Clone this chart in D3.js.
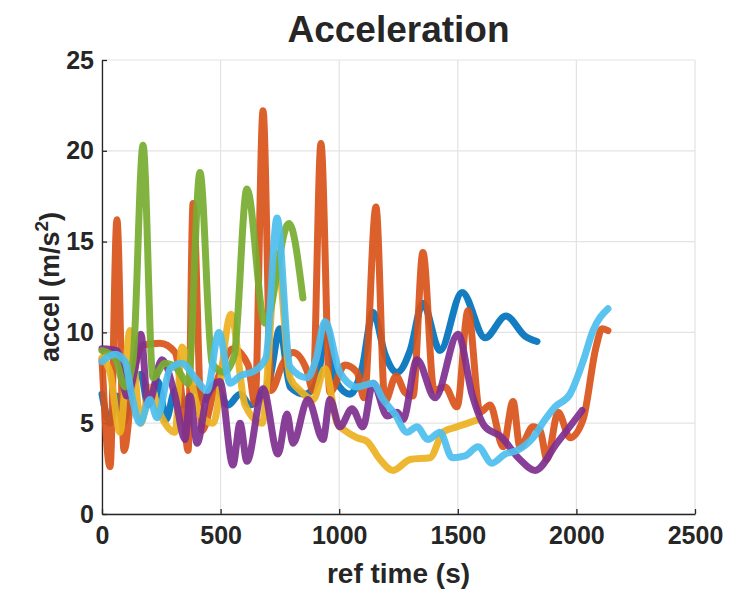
<!DOCTYPE html>
<html><head><meta charset="utf-8">
<script src="https://cdn.jsdelivr.net/npm/d3@7/dist/d3.min.js"></script>
<style>
body{margin:0;background:#fff}
svg{display:block}
text{font-family:"Liberation Sans",Arial,Helvetica,sans-serif;font-weight:bold;fill:#262626}
</style>
</head><body>
<svg id="chart" width="730" height="589"></svg>
<script>
const xTicks = [0, 500, 1000, 1500, 2000, 2500];
const yTicks = [0, 5, 10, 15, 20, 25];
const titleText = "Acceleration";
const xLabel = "ref time (s)";
const seriesColors = ["#0072BD", "#D95319", "#EDB120", "#7E2F8E", "#77AC30", "#4DBEEE"];

// [ref time (s), accel (m/s^2)]
const seriesBlue = [[0,6.6],[34,5.0],[63,6.5],[89,5.0],[131,7.2],[164,7.7],[194,6.0],[236,7.3],[270,5.2],[308,6.8],[341,6.0],[392,6.9],[434,6.3],[476,7.1],[531,6.0],[582,6.6],[624,6.0],[675,6.6],[708,7.5],[750,10.2],[793,7.0],[856,6.6],[911,7.5],[944,10.5],[987,7.3],[1046,6.6],[1096,8.0],[1143,11.1],[1193,8.8],[1244,7.8],[1299,9.0],[1353,11.6],[1425,9.0],[1518,12.2],[1615,9.7],[1703,10.9],[1783,9.8],[1834,9.5]];
const seriesOrange = [[0,8.5],[34,2.6],[63,16.2],[93,3.5],[131,7.5],[173,9.3],[245,9.4],[308,8.9],[341,6.0],[363,3.5],[384,17.1],[422,4.6],[476,7.0],[552,9.1],[616,8.2],[645,6.1],[679,22.2],[713,6.8],[763,8.3],[805,8.9],[864,7.9],[889,6.8],[923,20.4],[961,6.7],[1024,8.2],[1075,7.8],[1105,6.4],[1155,16.9],[1193,6.2],[1240,7.6],[1277,6.7],[1311,6.5],[1353,14.4],[1400,6.8],[1446,7.0],[1497,5.9],[1543,11.2],[1594,5.6],[1636,6.0],[1691,3.7],[1733,6.2],[1762,3.7],[1817,4.8],[1847,4.6],[1876,3.0],[1923,5.6],[1973,4.2],[2028,5.2],[2083,9.2],[2108,10.2],[2133,10.1]];
const seriesYellow = [[0,8.6],[34,7.8],[76,4.5],[118,10.1],[164,5.0],[202,7.0],[245,5.5],[308,4.5],[337,9.2],[413,5.5],[468,5.0],[544,11.0],[603,6.0],[675,5.0],[738,14.3],[793,7.5],[835,6.8],[890,6.3],[940,8.0],[991,5.0],[1024,4.6],[1075,4.2],[1117,4.0],[1172,3.0],[1227,2.4],[1299,3.0],[1383,3.1],[1438,4.5],[1497,4.8],[1585,5.2]];
const seriesPurple = [[0,9.1],[63,9.0],[105,6.5],[139,8.0],[164,9.9],[194,6.0],[253,8.5],[308,6.5],[350,4.1],[371,6.5],[401,3.9],[443,6.5],[497,7.3],[552,2.7],[582,5.0],[611,2.9],[679,6.9],[742,3.3],[780,5.5],[805,3.9],[868,6.3],[932,4.1],[961,6.3],[1003,4.8],[1054,5.8],[1100,4.8],[1143,7.2],[1202,5.4],[1244,5.6],[1269,5.2],[1328,8.5],[1404,6.4],[1501,9.9],[1560,6.6],[1615,4.8],[1678,4.3],[1762,3.0],[1826,2.4],[1918,3.9],[2024,5.7]];
const seriesGreen = [[0,9.0],[55,8.6],[97,7.0],[131,8.5],[173,20.3],[215,7.5],[266,8.3],[316,8.0],[363,7.2],[413,18.8],[464,8.3],[514,7.8],[557,8.7],[611,17.9],[687,10.5],[788,16.0],[847,11.9]];
const seriesLightBlue = [[0,8.4],[55,8.8],[97,8.4],[126,6.5],[160,5.0],[202,6.3],[232,5.3],[287,8.0],[337,8.3],[392,7.5],[443,6.8],[493,10.0],[540,7.2],[582,7.6],[645,7.9],[691,8.6],[738,16.3],[793,8.1],[864,7.5],[902,8.5],[940,10.6],[1003,7.8],[1075,7.0],[1143,7.2],[1185,6.3],[1235,5.5],[1286,4.5],[1328,4.8],[1374,4.1],[1425,4.5],[1476,3.1],[1530,3.2],[1585,3.7],[1644,2.8],[1699,3.3],[1750,3.5],[1817,4.2],[1868,5.2],[1910,5.9],[1973,6.6],[2028,8.4],[2070,10.1],[2133,11.3]];

const allSeries = [seriesBlue, seriesOrange, seriesYellow, seriesPurple, seriesGreen, seriesLightBlue];

const svg = d3.select("#chart");
const L = 102, R = 695, T = 60, B = 514;
const x = d3.scaleLinear().domain([0, 2500]).range([L, R]);
const y = d3.scaleLinear().domain([0, 25]).range([B, T]);

// grid
const grid = svg.append("g");
grid.selectAll("line.gx").data(xTicks).join("line")
  .attr("x1", d => x(d)).attr("x2", d => x(d)).attr("y1", T).attr("y2", B)
  .attr("stroke", "#e3e3e3").attr("stroke-width", 1.2);
grid.selectAll("line.gy").data(yTicks).join("line")
  .attr("x1", L).attr("x2", R).attr("y1", d => y(d)).attr("y2", d => y(d))
  .attr("stroke", "#e3e3e3").attr("stroke-width", 1.2);

// axes
const fmt = d3.format("d");
const xAxis = d3.axisBottom(x).tickValues(xTicks).tickFormat(fmt).tickSizeInner(-5).tickSizeOuter(0).tickPadding(12);
const yAxis = d3.axisLeft(y).tickValues(yTicks).tickFormat(fmt).tickSizeInner(-5).tickSizeOuter(0).tickPadding(8);
const gx = svg.append("g").attr("transform", `translate(0,${B})`).call(xAxis);
const gy = svg.append("g").attr("transform", `translate(${L},0)`).call(yAxis);
[gx, gy].forEach(g => {
  g.select(".domain").attr("stroke", "#262626").attr("stroke-width", 1.3);
  g.selectAll(".tick line").attr("stroke", "#262626").attr("stroke-width", 1.3);
  g.selectAll(".tick text").attr("font-size", 25).attr("fill", "#262626")
    .attr("font-family", '"Liberation Sans",Arial,sans-serif').attr("font-weight", "bold");
});

// lines
const line = d3.line().x(d => x(d[0])).y(d => y(d[1])).curve(d3.curveMonotoneX);
svg.append("g").selectAll("path").data(allSeries).join("path")
  .attr("d", d => line(d))
  .attr("fill", "none")
  .attr("stroke", (d, i) => seriesColors[i])
  .attr("stroke-width", 7)
  .attr("stroke-opacity", 0.92)
  .attr("stroke-linejoin", "round")
  .attr("stroke-linecap", "round");

// title and labels
svg.append("text").attr("x", (L + R) / 2).attr("y", 42).attr("text-anchor", "middle")
  .attr("font-size", 37).text(titleText);
svg.append("text").attr("x", (L + R) / 2).attr("y", 583).attr("text-anchor", "middle")
  .attr("font-size", 28).text(xLabel);
const yl = svg.append("text").attr("transform", `translate(59,${(T + B) / 2}) rotate(-90)`)
  .attr("text-anchor", "middle").attr("font-size", 27);
yl.append("tspan").text("accel (m/s");
yl.append("tspan").attr("font-size", 19).attr("dy", -11).text("2");
yl.append("tspan").attr("dy", 11).text(")");
</script>
</body></html>
